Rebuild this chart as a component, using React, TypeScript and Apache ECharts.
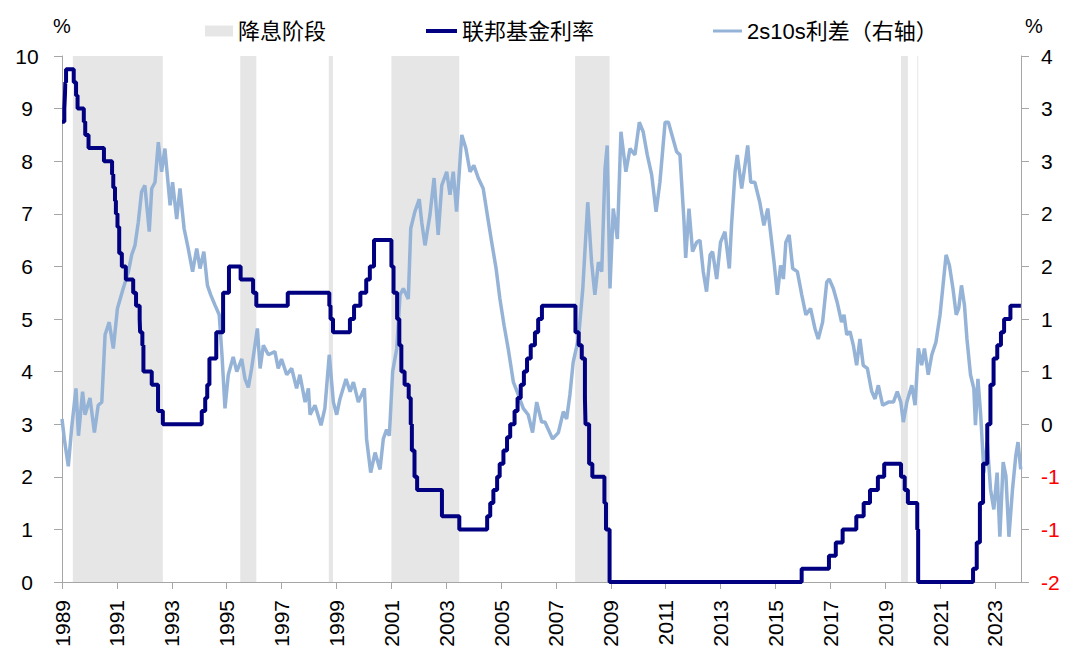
import React, { useEffect, useRef } from "react";
import * as echarts from "echarts";

// ---- Data ----
const xTickYears = [1989, 1991, 1993, 1995, 1997, 1999, 2001, 2003, 2005, 2007, 2009, 2011, 2013, 2015, 2017, 2019, 2021, 2023];

// Rate-cut phases (start, end)
const cutPhases: [string, string][] = [
  ["1989-05-25", "1992-09-04"],
  ["1995-07-01", "1996-01-31"],
  ["1998-09-22", "1998-11-17"],
  ["2001-01-03", "2003-06-25"],
  ["2007-09-14", "2008-12-16"],
  ["2019-07-31", "2019-10-30"],
  ["2020-03-03", "2020-03-16"],
];

// Fed funds rate: change dates and levels (%)
const fedDates = [
  "1989-01-01", "1989-02-01", "1989-02-09", "1989-02-14", "1989-02-24", "1989-06-06", "1989-07-07", "1989-07-27",
  "1989-10-18", "1989-11-06", "1989-12-20", "1990-07-13", "1990-10-29", "1990-11-14", "1990-12-07", "1990-12-19",
  "1991-01-09", "1991-02-01", "1991-03-08", "1991-04-30", "1991-08-06", "1991-09-13", "1991-10-31", "1991-11-06",
  "1991-12-06", "1991-12-20", "1992-04-09", "1992-07-02", "1992-09-04", "1994-02-04", "1994-03-22", "1994-04-18",
  "1994-05-17", "1994-08-16", "1994-11-15", "1995-02-01", "1995-07-06", "1995-12-19", "1996-01-31", "1997-03-25",
  "1998-09-29", "1998-10-15", "1998-11-17", "1999-06-30", "1999-08-24", "1999-11-16", "2000-02-02", "2000-03-21",
  "2000-05-16", "2001-01-03", "2001-01-31", "2001-03-20", "2001-04-18", "2001-05-15", "2001-06-27", "2001-08-21",
  "2001-09-17", "2001-10-02", "2001-11-06", "2001-12-11", "2002-11-06", "2003-06-25", "2004-06-30", "2004-08-10",
  "2004-09-21", "2004-11-10", "2004-12-14", "2005-02-02", "2005-03-22", "2005-05-03", "2005-06-30", "2005-08-09",
  "2005-09-20", "2005-11-01", "2005-12-13", "2006-01-31", "2006-03-28", "2006-05-10", "2006-06-29", "2007-09-18",
  "2007-10-31", "2007-12-11", "2008-01-22", "2008-01-30", "2008-03-18", "2008-04-30", "2008-10-08", "2008-10-29",
  "2008-12-16", "2015-12-16", "2016-12-14", "2017-03-15", "2017-06-14", "2017-12-13", "2018-03-21", "2018-06-13",
  "2018-09-26", "2018-12-19", "2019-07-31", "2019-09-18", "2019-10-30", "2020-03-03", "2020-03-15", "2022-03-16",
  "2022-05-04", "2022-06-15", "2022-07-27", "2022-09-21", "2022-11-02", "2022-12-14", "2023-02-01", "2023-03-22",
  "2023-05-03", "2023-07-26", "2023-12-12",
];
const fedRates = [
  8.75, 9.0, 9.25, 9.5, 9.75, 9.5, 9.25, 9.0,
  8.75, 8.5, 8.25, 8.0, 7.75, 7.5, 7.25, 7.0,
  6.75, 6.25, 6.0, 5.75, 5.5, 5.25, 5.0, 4.75,
  4.5, 4.0, 3.75, 3.25, 3.0, 3.25, 3.5, 3.75,
  4.25, 4.75, 5.5, 6.0, 5.75, 5.5, 5.25, 5.5,
  5.25, 5.0, 4.75, 5.0, 5.25, 5.5, 5.75, 6.0,
  6.5, 6.0, 5.5, 5.0, 4.5, 4.0, 3.75, 3.5,
  3.0, 2.5, 2.0, 1.75, 1.25, 1.0, 1.25, 1.5,
  1.75, 2.0, 2.25, 2.5, 2.75, 3.0, 3.25, 3.5,
  3.75, 4.0, 4.25, 4.5, 4.75, 5.0, 5.25, 4.75,
  4.5, 4.25, 3.5, 3.0, 2.25, 2.0, 1.5, 1.0,
  0, 0.25, 0.5, 0.75, 1.0, 1.25, 1.5, 1.75,
  2.0, 2.25, 2.0, 1.75, 1.5, 1.0, 0, 0.25,
  0.75, 1.5, 2.25, 3.0, 3.75, 4.25, 4.5, 4.75,
  5.0, 5.25, 5.25,
];

// 2s10s spread (%, right axis): decimal year and value
const spreadYears = [
  1989.0, 1989.1, 1989.23, 1989.35, 1989.51, 1989.6, 1989.75, 1989.84, 1990.02, 1990.18, 1990.32, 1990.45,
  1990.57, 1990.72, 1990.87, 1991.02, 1991.23, 1991.42, 1991.54, 1991.66, 1991.78, 1991.9, 1992.02, 1992.18,
  1992.27, 1992.39, 1992.51, 1992.63, 1992.75, 1992.94, 1993.03, 1993.18, 1993.3, 1993.45, 1993.6, 1993.76,
  1993.91, 1994.03, 1994.17, 1994.3, 1994.42, 1994.58, 1994.73, 1994.83, 1994.94, 1995.06, 1995.24, 1995.37,
  1995.55, 1995.67, 1995.79, 1995.91, 1996.12, 1996.22, 1996.34, 1996.52, 1996.76, 1996.88, 1997.0, 1997.19,
  1997.37, 1997.55, 1997.67, 1997.86, 1997.98, 1998.04, 1998.22, 1998.44, 1998.58, 1998.74, 1998.89, 1999.01,
  1999.13, 1999.35, 1999.5, 1999.62, 1999.8, 2000.02, 2000.1, 2000.25, 2000.41, 2000.59, 2000.71, 2000.83,
  2000.93, 2001.05, 2001.2, 2001.32, 2001.44, 2001.62, 2001.71, 2001.86, 2002.02, 2002.11, 2002.23, 2002.41,
  2002.56, 2002.71, 2002.84, 2003.02, 2003.14, 2003.26, 2003.38, 2003.57, 2003.72, 2003.87, 2004.01, 2004.17,
  2004.35, 2004.5, 2004.66, 2004.82, 2004.96, 2005.11, 2005.26, 2005.45, 2005.63, 2005.81, 2005.99, 2006.15,
  2006.3, 2006.48, 2006.6, 2006.88, 2007.09, 2007.27, 2007.39, 2007.51, 2007.63, 2007.82, 2007.98, 2008.16,
  2008.3, 2008.42, 2008.55, 2008.67, 2008.79, 2008.87, 2008.97, 2009.09, 2009.24, 2009.37, 2009.55, 2009.7,
  2009.88, 2010.04, 2010.18, 2010.33, 2010.49, 2010.65, 2010.79, 2010.98, 2011.1, 2011.26, 2011.4, 2011.52,
  2011.67, 2011.73, 2011.85, 2011.98, 2012.13, 2012.25, 2012.37, 2012.49, 2012.62, 2012.71, 2012.86, 2013.0,
  2013.16, 2013.32, 2013.4, 2013.53, 2013.61, 2013.77, 2013.89, 2013.99, 2014.1, 2014.25, 2014.43, 2014.58,
  2014.72, 2014.82, 2014.95, 2015.07, 2015.19, 2015.29, 2015.38, 2015.5, 2015.63, 2015.8, 2015.96, 2016.11,
  2016.28, 2016.44, 2016.56, 2016.72, 2016.87, 2016.96, 2017.11, 2017.25, 2017.41, 2017.5, 2017.6, 2017.72,
  2017.84, 2017.96, 2018.08, 2018.2, 2018.35, 2018.51, 2018.63, 2018.75, 2018.91, 2019.12, 2019.3, 2019.44,
  2019.57, 2019.66, 2019.79, 2019.97, 2020.09, 2020.21, 2020.33, 2020.43, 2020.57, 2020.7, 2020.85, 2021.0,
  2021.12, 2021.22, 2021.34, 2021.47, 2021.59, 2021.68, 2021.78, 2021.89, 2021.98, 2022.11, 2022.23, 2022.29,
  2022.38, 2022.48, 2022.6, 2022.72, 2022.84, 2022.96, 2023.08, 2023.18, 2023.3, 2023.4, 2023.51, 2023.64,
  2023.76, 2023.84, 2023.94,
];
const spreadValues = [
  0.05, -0.17, -0.40, -0.04, 0.34, -0.11, 0.31, 0.09, 0.25, -0.08, 0.18, 0.21,
  0.85, 0.97, 0.72, 1.10, 1.29, 1.45, 1.61, 1.70, 1.92, 2.21, 2.27, 1.83,
  2.24, 2.30, 2.68, 2.40, 2.62, 2.08, 2.30, 1.95, 2.24, 1.86, 1.67, 1.45,
  1.67, 1.48, 1.64, 1.32, 1.23, 1.13, 1.04, 0.66, 0.15, 0.47, 0.64, 0.50,
  0.62, 0.43, 0.35, 0.53, 0.91, 0.53, 0.75, 0.66, 0.69, 0.53, 0.62, 0.47,
  0.53, 0.34, 0.47, 0.21, 0.34, 0.09, 0.18, -0.01, 0.15, 0.66, 0.21, 0.09,
  0.24, 0.43, 0.31, 0.40, 0.21, 0.34, -0.14, -0.46, -0.27, -0.43, -0.14, -0.05,
  -0.11, 0.50, 0.72, 1.23, 1.29, 1.19, 1.86, 2.02, 2.14, 1.92, 1.70, 1.99,
  2.34, 1.80, 2.27, 2.40, 2.18, 2.40, 2.02, 2.75, 2.62, 2.40, 2.46, 2.34,
  2.24, 1.99, 1.73, 1.48, 1.19, 0.94, 0.72, 0.40, 0.28, 0.15, 0.09, -0.08,
  0.21, 0.02, 0.02, -0.14, -0.08, 0.12, 0.05, 0.28, 0.59, 0.81, 1.29, 2.11,
  1.54, 1.23, 1.54, 1.45, 2.43, 2.65, 1.29, 2.05, 1.76, 2.78, 2.40, 2.62,
  2.56, 2.87, 2.78, 2.56, 2.37, 2.02, 2.30, 2.87, 2.87, 2.72, 2.59, 2.56,
  1.92, 1.58, 2.05, 1.64, 1.73, 1.75, 1.45, 1.26, 1.61, 1.64, 1.38, 1.73,
  1.83, 1.48, 1.89, 2.40, 2.56, 2.24, 2.46, 2.65, 2.30, 2.30, 2.11, 1.89,
  2.05, 1.83, 1.54, 1.23, 1.51, 1.38, 1.73, 1.80, 1.48, 1.45, 1.23, 1.04,
  1.10, 0.91, 0.81, 0.97, 1.35, 1.38, 1.29, 1.16, 0.97, 1.04, 0.85, 0.88,
  0.75, 0.56, 0.81, 0.56, 0.53, 0.31, 0.24, 0.37, 0.18, 0.21, 0.21, 0.31,
  0.21, 0.02, 0.21, 0.37, 0.18, 0.72, 0.56, 0.72, 0.47, 0.66, 0.78, 1.04,
  1.35, 1.61, 1.51, 1.29, 1.04, 1.10, 1.32, 1.13, 0.81, 0.47, 0.34, -0.01,
  0.43, 0.09, -0.46, -0.17, -0.62, -0.81, -0.46, -1.07, -0.36, -0.49, -1.07, -0.62,
  -0.30, -0.17, -0.43,
];

const SERIES_CUT = "降息阶段";
const SERIES_FED = "联邦基金利率";
const SERIES_SPREAD = "2s10s利差（右轴）";

// ---- helpers ----
function toYear(s: string): number {
  const [y, m, d] = s.split("-").map(Number);
  const start = Date.UTC(y, 0, 1);
  const end = Date.UTC(y + 1, 0, 1);
  return y + (Date.UTC(y, m - 1, d) - start) / (end - start);
}
function excelRound(v: number): number {
  const r = Math.sign(v) * Math.round(Math.abs(v));
  return r === 0 ? 0 : r;
}

const FONT = '"Liberation Sans", Arial, "Noto Sans CJK SC", sans-serif';
const AXIS_GREY = "#a6a6a6";

export default function App() {
  const ref = useRef<HTMLDivElement>(null);

  useEffect(() => {
    if (!ref.current) return;
    const chart = echarts.init(ref.current, undefined, { renderer: "svg" });

    const fedData = fedDates.map((d, i) => [toYear(d), fedRates[i]]);
    const spreadData = spreadYears.map((y, i) => [y, spreadValues[i]]);
    const areaData = cutPhases.map(([s, e]) => [{ xAxis: toYear(s) }, { xAxis: toYear(e) }]);

    const legendBase = {
      top: 20,
      padding: 0,
      selectedMode: false,
      itemGap: 0,
      textStyle: { fontSize: 22, color: "#000", fontFamily: FONT },
    };

    chart.setOption({
      animation: false,
      backgroundColor: "#fff",
      textStyle: { fontFamily: FONT },
      grid: { left: 62, right: 59, top: 56, bottom: 83, containLabel: false },
      legend: [
        { ...legendBase, left: 205, data: [{ name: SERIES_CUT, icon: "rect" }], itemWidth: 28, itemHeight: 11 },
        { ...legendBase, left: 426, data: [{ name: SERIES_FED, icon: "rect" }], itemWidth: 31, itemHeight: 4 },
        { ...legendBase, left: 713, data: [{ name: SERIES_SPREAD, icon: "rect" }], itemWidth: 29, itemHeight: 3 },
      ],
      xAxis: {
        type: "value",
        min: 1989,
        max: 2023.95,
        splitLine: { show: false },
        axisLine: { show: true, lineStyle: { color: AXIS_GREY, width: 1 } },
        axisTick: { show: true, length: 7, customValues: xTickYears, lineStyle: { color: AXIS_GREY } },
        axisLabel: {
          customValues: xTickYears,
          rotate: 90,
          fontSize: 21,
          color: "#000",
          margin: 18,
          fontFamily: FONT,
          formatter: (v: number) => String(Math.round(v)),
        },
      },
      yAxis: [
        {
          type: "value",
          min: 0,
          max: 10,
          interval: 1,
          position: "left",
          name: "%",
          nameLocation: "end",
          nameGap: 20,
          nameTextStyle: { fontSize: 20, color: "#000", fontFamily: FONT },
          splitLine: { show: false },
          axisLine: { show: true, lineStyle: { color: AXIS_GREY, width: 1 } },
          axisTick: { show: true, length: 8, lineStyle: { color: AXIS_GREY } },
          axisLabel: { fontSize: 21, color: "#000", align: "center", margin: 35, fontFamily: FONT },
        },
        {
          type: "value",
          min: -1.5,
          max: 3.5,
          interval: 0.5,
          position: "right",
          name: "%",
          nameLocation: "end",
          nameGap: 20,
          nameTextStyle: { fontSize: 20, color: "#000", fontFamily: FONT, padding: [0, 0, 0, 26] },
          splitLine: { show: false },
          axisLine: { show: true, lineStyle: { color: AXIS_GREY, width: 1 } },
          axisTick: { show: true, length: 8, lineStyle: { color: AXIS_GREY } },
          axisLabel: {
            fontSize: 21,
            margin: 20,
            fontFamily: FONT,
            formatter: (v: number) => String(excelRound(v)),
            color: (v: any) => (excelRound(Number(v)) < 0 ? "#ff0000" : "#000000"),
          },
        },
      ],
      series: [
        {
          name: SERIES_CUT,
          type: "line",
          data: [],
          xAxisIndex: 0,
          yAxisIndex: 0,
          itemStyle: { color: "#e6e6e6" },
          lineStyle: { color: "#e6e6e6" },
          z: 1,
          markArea: {
            silent: true,
            itemStyle: { color: "#e6e6e6" },
            data: areaData,
          },
        },
        {
          name: SERIES_SPREAD,
          type: "line",
          yAxisIndex: 1,
          data: spreadData,
          showSymbol: false,
          symbol: "none",
          lineStyle: { color: "#95b3d7", width: 3.5 },
          itemStyle: { color: "#95b3d7" },
          z: 2,
        },
        {
          name: SERIES_FED,
          type: "line",
          yAxisIndex: 0,
          step: "end",
          data: fedData,
          showSymbol: false,
          symbol: "none",
          lineStyle: { color: "#000080", width: 4 },
          itemStyle: { color: "#000080" },
          z: 3,
        },
      ],
    });

    return () => chart.dispose();
  }, []);

  return (
    <div
      ref={ref}
      style={{ position: "fixed", left: 0, top: 0, width: 1080, height: 665, background: "#fff" }}
    />
  );
}
